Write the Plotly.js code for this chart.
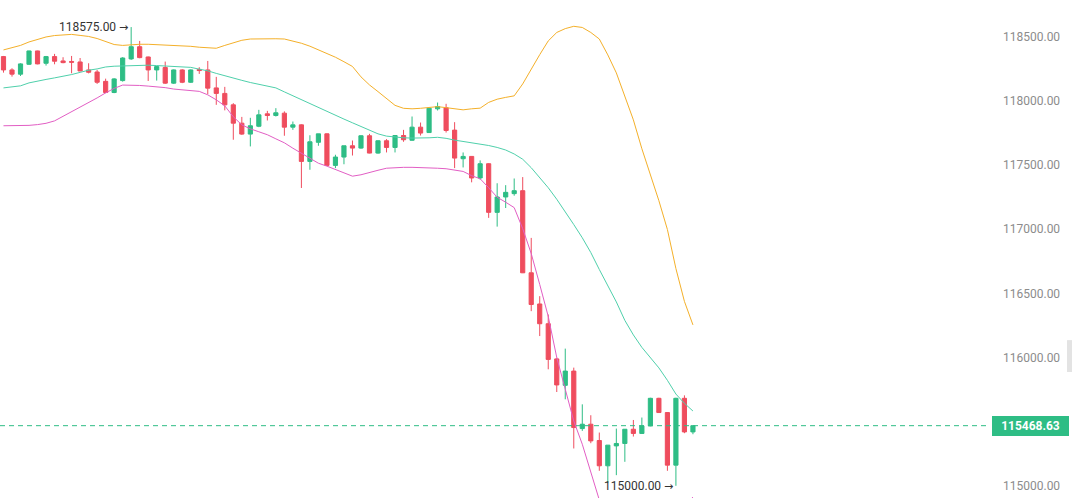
<!DOCTYPE html>
<html>
<head>
<meta charset="utf-8">
<script src="https://cdn.plot.ly/plotly-3.0.1.min.js"></script>
<style>
  html, body { margin: 0; padding: 0; background: #ffffff; }
  #chart { width: 1072px; height: 498px; }
</style>
</head>
<body>
<div id="chart"></div>
<script>
// ---- Data ----
const openPrices = [118345,118241,118208,118285,118389,118293,118345,118311,118307,118303,
118241,118225,118152,118065,118158,118327,118422,118342,118241,118260,
118138,118241,118145,118245,118241,118101,118058,117969,117826,117741,
117802,117899,117886,117904,117795,117813,117528,117677,117743,117497,
117562,117650,117632,117728,117593,117689,117637,117730,117693,117795,
117753,117938,117946,117772,117549,117567,117399,117510,117131,117251,
117277,117300,116660,116417,116263,115989,115783,115894,115446,115480,
115353,115156,115311,115330,115441,115408,115467,115682,115571,115161,
115682,115420];

const highPrices = [118350,118254,118293,118391,118391,118350,118366,118340,118350,118334,
118293,118241,118173,118177,118340,118575,118467,118345,118272,118306,
118245,118247,118245,118262,118311,118187,118109,117982,117875,117868,
117930,117922,117943,117918,117839,117817,117732,117743,117747,117580,
117650,117691,117732,117743,117693,117702,117732,117774,117878,117831,
117945,117987,117977,117834,117598,117568,117536,117514,117358,117343,
117395,117406,116932,116478,116335,115999,116069,115921,115635,115550,
115415,115317,115446,115441,115513,115532,115686,115686,115573,115686,
115705,115468.63];

const lowPrices = [118220,118189,118194,118280,118285,118275,118285,118293,118215,118231,
118214,118132,118060,118060,118150,118319,118332,118155,118158,118132,
118132,118138,118140,118210,118052,117969,117926,117697,117735,117645,
117795,117847,117878,117728,117774,117321,117463,117650,117494,117476,
117506,117574,117627,117591,117588,117598,117598,117681,117689,117730,
117751,117925,117753,117476,117481,117365,117386,117088,117020,117165,
117261,116658,116361,116167,115908,115731,115674,115291,115428,115332,
115117,115021,115083,115187,115384,115406,115464,115569,115117,115000,
115410,115402];

const closePrices = [118241,118208,118288,118389,118288,118345,118309,118298,118301,118233,
118223,118145,118065,118171,118334,118422,118337,118241,118267,118138,
118241,118145,118241,118236,118099,118058,117969,117826,117741,117806,
117891,117886,117907,117795,117813,117528,117681,117743,117497,117562,
117650,117632,117728,117593,117689,117637,117730,117697,117795,117749,
117943,117956,117769,117554,117567,117399,117510,117131,117251,117287,
117300,116660,116413,116263,115985,115786,115894,115454,115480,115350,
115156,115317,115330,115441,115408,115467,115682,115571,115161,115682,
115420,115468.63];

const bollUpper = [118397,118414,118432,118459,118478,118498,118509,118516,118518,118510,
118502,118486,118465,118439,118432,118439,118441,118441,118439,118436,
118433,118430,118425,118418,118414,118410,118432,118454,118472,118482,
118484,118485,118484,118482,118468,118449,118426,118397,118370,118340,
118305,118268,118187,118124,118072,118016,117965,117942,117938,117942,
117949,117955,117947,117938,117930,117938,117943,117988,118013,118027,
118039,118132,118249,118360,118467,118533,118563,118581,118572,118533,
118482,118358,118218,118039,117852,117627,117424,117222,116997,116693,
116437,116254];

const bollMiddle = [118101,118109,118117,118140,118156,118167,118179,118191,118205,118222,
118239,118249,118264,118270,118273,118275,118277,118278,118275,118272,
118271,118268,118261,118247,118234,118214,118194,118177,118160,118143,
118128,118114,118101,118070,118039,118008,117978,117949,117918,117887,
117858,117829,117799,117770,117743,117725,117718,117712,117710,117710,
117712,117716,117708,117694,117684,117675,117666,117652,117637,117617,
117586,117545,117479,117405,117323,117233,117137,117036,116933,116818,
116686,116565,116433,116289,116176,116079,115997,115919,115822,115715,
115643,115583];

const bollLower = [117806,117806,117807,117809,117815,117825,117844,117879,117914,117949,
117984,118023,118062,118097,118123,118124,118120,118115,118110,118103,
118092,118086,118078,118074,118047,118008,117961,117876,117813,117782,
117759,117736,117704,117673,117631,117592,117549,117514,117491,117467,
117440,117413,117424,117444,117459,117475,117481,117482,117482,117481,
117479,117475,117471,117459,117450,117417,117393,117323,117249,117210,
117168,117004,116810,116569,116320,116000,115760,115505,115324,115107,
114890,114772,114648,114539,114500,114531,114570,114616,114647,114737,
114849,114912];

const lastPrice = 115468.63;
const highMark = {index: 15, value: 118575.00, label: '118575.00'};
const lowMark = {index: 79, value: 115000.00, label: '115000.00'};
const yTickVals = [115000, 116000, 116500, 117000, 117500, 118000, 118500];
const yTickText = ['115000.00', '116000.00', '116500.00', '117000.00', '117500.00', '118000.00', '118500.00'];

// ---- Styling ----
const UP = '#2ebd85';
const DOWN = '#ef4d5e';
const xIdx = openPrices.map((_, i) => i);
const ARROW = ' <span style="font-family:\'DejaVu Sans\';font-size:11px">→</span>';

const traces = [
  {
    type: 'candlestick',
    x: xIdx,
    open: openPrices, high: highPrices, low: lowPrices, close: closePrices,
    increasing: { line: { color: UP, width: 1 }, fillcolor: UP },
    decreasing: { line: { color: DOWN, width: 1 }, fillcolor: DOWN },
    whiskerwidth: 0,
    hoverinfo: 'skip'
  },
  { type: 'scatter', mode: 'lines', x: xIdx, y: bollUpper, line: { color: '#f4b02a', width: 1 }, hoverinfo: 'skip' },
  { type: 'scatter', mode: 'lines', x: xIdx, y: bollMiddle, line: { color: '#4fd0ab', width: 1 }, hoverinfo: 'skip' },
  { type: 'scatter', mode: 'lines', x: xIdx, y: bollLower, line: { color: '#e25ec4', width: 1 }, hoverinfo: 'skip' }
];

const layout = {
  width: 1072,
  height: 498,
  margin: { l: 0, r: 82, t: 0, b: 0, pad: 0 },
  paper_bgcolor: '#ffffff',
  plot_bgcolor: '#ffffff',
  showlegend: false,
  font: { family: 'Roboto, "Noto Sans", sans-serif', size: 12, color: '#333333' },
  xaxis: {
    range: [-0.41, 115.9],
    visible: false,
    showgrid: false,
    zeroline: false,
    rangeslider: { visible: false }
  },
  yaxis: {
    side: 'right',
    range: [114905, 118786],
    tickvals: yTickVals,
    ticktext: yTickText,
    showgrid: false,
    zeroline: false,
    showline: false,
    ticks: '',
    ticklabelstandoff: 12,
    tickfont: { family: 'Roboto, sans-serif', size: 12, color: '#8c8c8c' }
  },
  shapes: [
    {
      type: 'line', xref: 'paper', yref: 'y',
      x0: 0, x1: 1, y0: lastPrice, y1: lastPrice,
      line: { color: UP, width: 1, dash: '5px,4px' }
    },
    {
      type: 'rect', xref: 'paper', yref: 'paper',
      x0: 1.0778, x1: 1.0840, y0: 0.253, y1: 0.317,
      line: { width: 0 }, fillcolor: '#e3e3e3'
    }
  ],
  annotations: [
    {
      x: highMark.index, y: highMark.value, xref: 'x', yref: 'y',
      text: highMark.label + ARROW, showarrow: false,
      xanchor: 'right', yanchor: 'middle', xshift: -1,
      font: { family: 'Roboto, sans-serif', size: 12, color: '#333333' }
    },
    {
      x: lowMark.index, y: lowMark.value, xref: 'x', yref: 'y',
      text: lowMark.label + ARROW, showarrow: false,
      xanchor: 'right', yanchor: 'middle', xshift: -1,
      font: { family: 'Roboto, sans-serif', size: 12, color: '#333333' }
    },
    {
      x: 1, y: lastPrice, xref: 'paper', yref: 'y',
      text: '<b>' + lastPrice.toFixed(2) + '</b>', showarrow: false,
      xanchor: 'left', yanchor: 'middle', xshift: 2,
      bgcolor: UP, borderpad: 2, borderwidth: 0,
      width: 73, height: 16,
      font: { family: 'Roboto, sans-serif', size: 12, color: '#ffffff' }
    }
  ]
};

Plotly.newPlot('chart', traces, layout, { staticPlot: true, displayModeBar: false, responsive: false });
</script>
</body>
</html>
